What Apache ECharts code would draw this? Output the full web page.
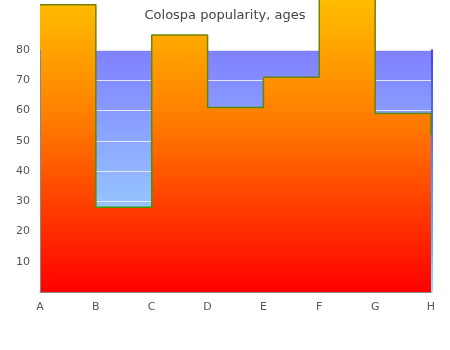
<!DOCTYPE html>
<html>
<head>
<meta charset="utf-8">
<script src="https://cdn.jsdelivr.net/npm/echarts@6/dist/echarts.min.js"></script>
<style>html,body{margin:0;padding:0;background:#fff}#c{width:450px;height:350px}</style>
</head>
<body>
<div id="c"></div>
<script>
var categories = ['A', 'B', 'C', 'D', 'E', 'F', 'G', 'H'];
var ages = [95, 28, 85, 61, 71, 105, 59, 52];
var yTicks = [10, 20, 30, 40, 50, 60, 70, 80];

var chart = echarts.init(document.getElementById('c'));
function vgrad(stops) {
  return new echarts.graphic.LinearGradient(0, 0, 0, 1, stops);
}
chart.setOption({
  animation: false,
  title: {
    text: 'Colospa popularity, ages',
    left: 'center', top: 4,
    textStyle: { fontFamily: 'DejaVu Sans', fontSize: 13, fontWeight: 'normal', color: '#444' }
  },
  grid: {
    left: 40, right: 19, top: 50, bottom: 58,
    show: true, borderWidth: 0,
    backgroundColor: vgrad([{ offset: 0, color: '#8080ff' }, { offset: 1, color: '#a2eaff' }])
  },
  xAxis: {
    type: 'category', data: categories, boundaryGap: false, z: 5,
    axisLine: { lineStyle: { color: '#888', width: 1 } },
    axisTick: { show: false },
    axisLabel: { fontFamily: 'DejaVu Sans', fontSize: 11, color: '#555', margin: 10 },
    splitLine: { show: false }
  },
  yAxis: [{
    type: 'value', min: 0, max: 80, interval: 10,
    axisLine: { show: false }, axisTick: { show: false },
    axisLabel: {
      fontFamily: 'DejaVu Sans', fontSize: 11, color: '#555', margin: 10,
      formatter: function (v) { return yTicks.indexOf(v) >= 0 ? String(v) : ''; }
    },
    splitLine: { lineStyle: { color: '#e4e4ee', width: 1 } }
  }, {
    type: 'value', min: 0, max: 80, position: 'left', z: 5,
    axisLine: { show: true, lineStyle: { color: '#888', width: 1 } },
    axisTick: { show: false }, axisLabel: { show: false }, splitLine: { show: false }
  }, {
    type: 'value', min: 0, max: 80, position: 'right', offset: 1, z: 1,
    axisLine: { show: true, lineStyle: { width: 1.5, color: vgrad([{ offset: 0, color: '#0000ff' }, { offset: 0.8, color: '#3399ff' }, { offset: 1, color: '#77ddff' }]) } },
    axisTick: { show: false }, axisLabel: { show: false }, splitLine: { show: false }
  }],
  series: [{
    type: 'line', data: ages, step: 'end', clip: false,
    symbol: 'none', z: 3,
    lineStyle: { width: 1.5, color: vgrad([{ offset: 0, color: '#807a00' }, { offset: 1, color: '#3d9a00' }]) },
    areaStyle: {
      opacity: 1,
      color: vgrad([{ offset: 0, color: '#ffcc00' }, { offset: 0.47, color: '#ff7a00' }, { offset: 1, color: '#ff0000' }])
    }
  }]
});
</script>
</body>
</html>
